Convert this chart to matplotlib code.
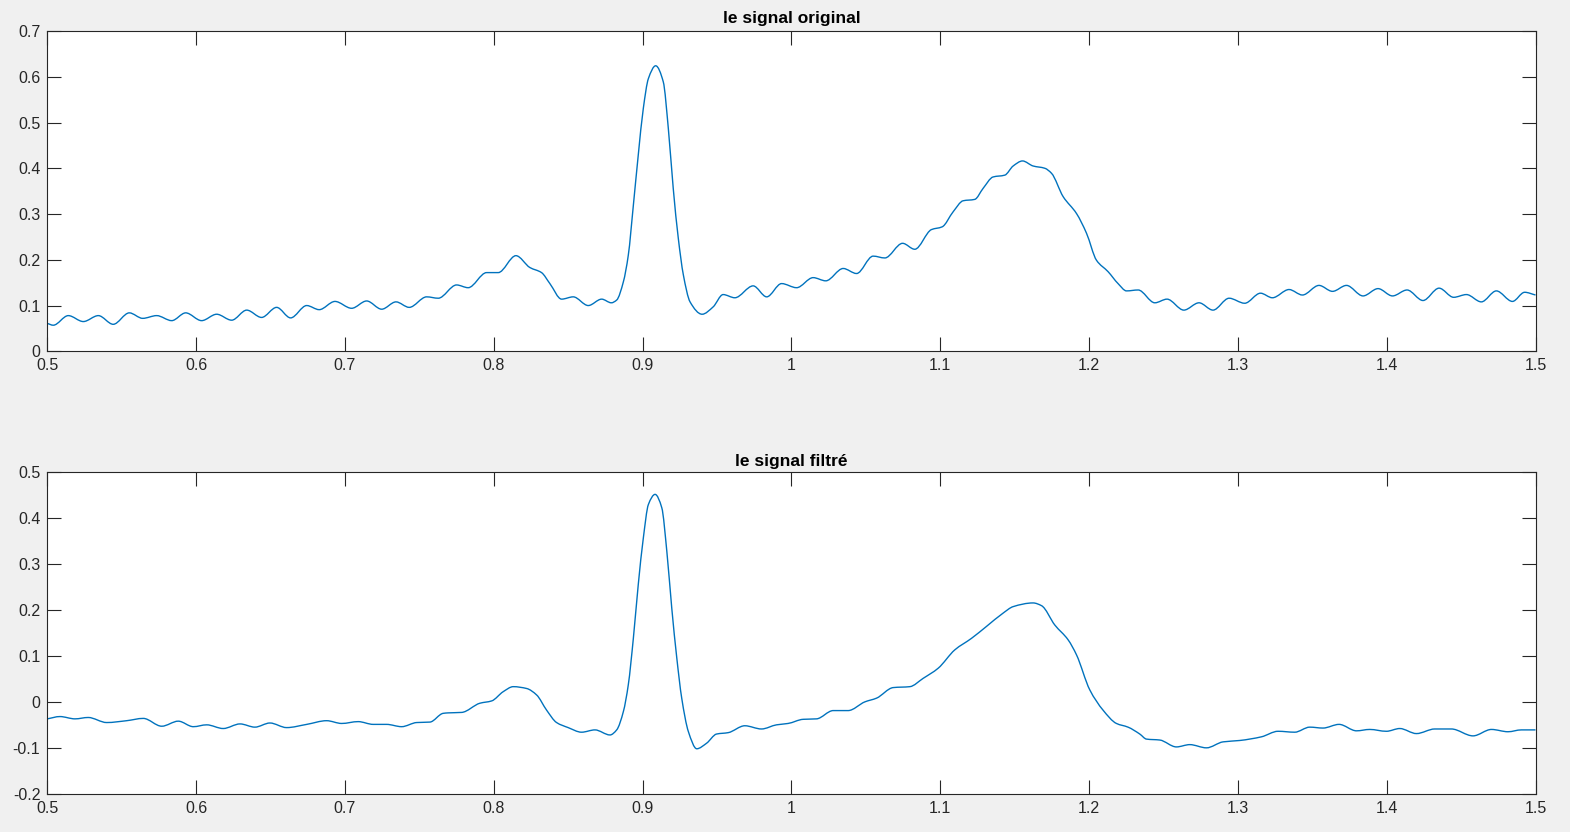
import matplotlib
matplotlib.use("Agg")
import matplotlib.pyplot as plt
from matplotlib.path import Path
from matplotlib.patches import PathPatch
import numpy as np

# ---- data ----
t_orig = [0.5000, 0.5040, 0.5141, 0.5242, 0.5343, 0.5443, 0.5551, 0.5641, 0.5735, 0.5836,
          0.5930, 0.6037, 0.6138, 0.6239, 0.6340, 0.6440, 0.6541, 0.6635, 0.6743, 0.6827,
          0.6933, 0.7045, 0.7146, 0.7247, 0.7343, 0.7432, 0.7549, 0.7627, 0.7750, 0.7828,
          0.7952, 0.8030, 0.8149, 0.8243, 0.8321, 0.8377, 0.8456, 0.8534, 0.8635, 0.8725,
          0.8790, 0.8826, 0.8871, 0.8904, 0.8938, 0.8971, 0.9005, 0.9039, 0.9088, 0.9139,
          0.9173, 0.9206, 0.9240, 0.9274, 0.9319, 0.9400, 0.9474, 0.9541, 0.9620, 0.9743,
          0.9834, 0.9934, 1.0035, 1.0146,
          1.0231, 1.0348, 1.0438, 1.0549, 1.0628, 1.0747, 1.0829, 1.0941, 1.1013, 1.1087,
          1.1154, 1.1232, 1.1288, 1.1355, 1.1434, 1.1490, 1.1553, 1.1624, 1.1703, 1.1748,
          1.1826, 1.1916, 1.1983, 1.2050, 1.2128, 1.2195, 1.2252, 1.2330, 1.2442, 1.2524,
          1.2637, 1.2739, 1.2833, 1.2941, 1.3046, 1.3152, 1.3232, 1.3344, 1.3434, 1.3545,
          1.3636, 1.3730, 1.3841, 1.3942, 1.4039, 1.4137, 1.4244, 1.4352, 1.4450, 1.4536,
          1.4636, 1.4737, 1.4845, 1.4927, 1.5000]
y_orig = [0.061, 0.057, 0.078, 0.065, 0.078, 0.059, 0.084, 0.072, 0.078, 0.067,
          0.084, 0.067, 0.081, 0.068, 0.090, 0.074, 0.096, 0.073, 0.100, 0.091,
          0.109, 0.094, 0.110, 0.092, 0.108, 0.096, 0.119, 0.116, 0.145, 0.139,
          0.172, 0.172, 0.209, 0.183, 0.172, 0.148, 0.114, 0.119, 0.100, 0.114,
          0.106, 0.112, 0.152, 0.210, 0.319, 0.429, 0.531, 0.596, 0.624, 0.589,
          0.487, 0.356, 0.247, 0.167, 0.108, 0.081, 0.097, 0.124, 0.117, 0.143,
          0.119, 0.148, 0.139, 0.161,
          0.154, 0.181, 0.170, 0.208, 0.204, 0.236, 0.223, 0.266, 0.272, 0.305,
          0.329, 0.332, 0.356, 0.381, 0.385, 0.405, 0.416, 0.405, 0.400, 0.389,
          0.338, 0.301, 0.258, 0.199, 0.174, 0.148, 0.132, 0.134, 0.106, 0.114,
          0.090, 0.106, 0.090, 0.116, 0.105, 0.127, 0.117, 0.135, 0.123, 0.144,
          0.131, 0.144, 0.121, 0.137, 0.121, 0.134, 0.111, 0.138, 0.118, 0.124,
          0.108, 0.132, 0.109, 0.129, 0.123]

t_filt = [0.5000, 0.5085, 0.5186, 0.5275, 0.5399, 0.5533, 0.5645, 0.5769, 0.5880, 0.5981,
          0.6071, 0.6182, 0.6295, 0.6395, 0.6496, 0.6608, 0.6743, 0.6877, 0.6978, 0.7089,
          0.7190, 0.7280, 0.7381, 0.7482, 0.7571, 0.7660, 0.7694, 0.7784, 0.7907, 0.7986,
          0.8063, 0.8131, 0.8221, 0.8288, 0.8355, 0.8422, 0.8500, 0.8590, 0.8680, 0.8781,
          0.8826, 0.8871, 0.8904, 0.8938, 0.8971, 0.9005, 0.9039, 0.9084, 0.9129, 0.9163,
          0.9196, 0.9230, 0.9263, 0.9308, 0.9364, 0.9430, 0.9497, 0.9575, 0.9687, 0.9799,
          0.9900, 0.9978, 1.0079,
          1.0169, 1.0281, 1.0381, 1.0494, 1.0572, 1.0684, 1.0796, 1.0885, 1.0986, 1.1098,
          1.1210, 1.1311, 1.1423, 1.1490, 1.1624, 1.1681, 1.1770, 1.1859, 1.1916, 1.2005,
          1.2094, 1.2184, 1.2262, 1.2341, 1.2386, 1.2475, 1.2587, 1.2677, 1.2789, 1.2901,
          1.3013, 1.3159, 1.3270, 1.3382, 1.3483, 1.3572, 1.3680, 1.3797, 1.3886, 1.3998,
          1.4088, 1.4200, 1.4323, 1.4435, 1.4580, 1.4704, 1.4815, 1.4905, 1.5000]
y_filt = [-0.036, -0.031, -0.036, -0.033, -0.044, -0.040, -0.035, -0.052, -0.041, -0.053,
          -0.049, -0.057, -0.047, -0.054, -0.045, -0.055, -0.048, -0.040, -0.046, -0.042,
          -0.048, -0.048, -0.053, -0.044, -0.043, -0.024, -0.023, -0.022, -0.002, 0.003,
          0.023, 0.034, 0.030, 0.016, -0.017, -0.044, -0.055, -0.065, -0.060, -0.071,
          -0.060, -0.020, 0.038, 0.139, 0.256, 0.357, 0.430, 0.452, 0.423, 0.328,
          0.205, 0.096, 0.009, -0.064, -0.101, -0.089, -0.069, -0.066, -0.051, -0.058,
          -0.049, -0.046, -0.037,
          -0.036, -0.018, -0.018, 0.001, 0.009, 0.032, 0.034, 0.052, 0.074, 0.114,
          0.139, 0.165, 0.194, 0.208, 0.216, 0.210, 0.168, 0.136, 0.103, 0.027,
          -0.017, -0.046, -0.054, -0.069, -0.080, -0.082, -0.097, -0.092, -0.099, -0.086,
          -0.083, -0.075, -0.063, -0.065, -0.054, -0.056, -0.048, -0.062, -0.059, -0.063,
          -0.057, -0.068, -0.058, -0.058, -0.073, -0.059, -0.064, -0.060, -0.060]

x_ticks = [0.5, 0.6, 0.7, 0.8, 0.9, 1.0, 1.1, 1.2, 1.3, 1.4, 1.5]
x_ticklabels = ["0.5", "0.6", "0.7", "0.8", "0.9", "1", "1.1", "1.2", "1.3", "1.4", "1.5"]
y_ticks_top = [0, 0.1, 0.2, 0.3, 0.4, 0.5, 0.6, 0.7]
y_ticklabels_top = ["0", "0.1", "0.2", "0.3", "0.4", "0.5", "0.6", "0.7"]
y_ticks_bot = [-0.2, -0.1, 0, 0.1, 0.2, 0.3, 0.4, 0.5]
y_ticklabels_bot = ["-0.2", "-0.1", "0", "0.1", "0.2", "0.3", "0.4", "0.5"]
titles = ["le signal original", "le signal filtré"]

# ---- figure ----
plt.rcParams['font.family'] = ['Liberation Sans', 'DejaVu Sans']
W, H = 1570, 832
fig = plt.figure(figsize=(W / 100, H / 100), dpi=100, facecolor='#f0f0f0')

line_color = '#0072BD'
axis_color = '#262626'


def smooth_path(t, y):
    """Bezier path through the read points (shape-preserving tangents)."""
    x = np.asarray(t, float)
    v = np.asarray(y, float)
    h = np.diff(x)
    d = np.diff(v) / h
    n = len(x)
    m = np.zeros(n)
    for i in range(1, n - 1):
        if d[i - 1] * d[i] > 0:
            w1 = 2 * h[i] + h[i - 1]
            w2 = h[i] + 2 * h[i - 1]
            m[i] = (w1 + w2) / (w1 / d[i - 1] + w2 / d[i])
    m[0] = d[0]
    m[-1] = d[-1]
    verts = [(x[0], v[0])]
    codes = [Path.MOVETO]
    for i in range(n - 1):
        verts += [(x[i] + h[i] / 3, v[i] + m[i] * h[i] / 3),
                  (x[i + 1] - h[i] / 3, v[i + 1] - m[i + 1] * h[i] / 3),
                  (x[i + 1], v[i + 1])]
        codes += [Path.CURVE4] * 3
    return Path(verts, codes)


def make_axes(rect, t, y, yticks, yticklabels, ylim, title, tpad):
    ax = fig.add_axes(rect)
    ax.set_facecolor('white')
    ax.add_patch(PathPatch(smooth_path(t, y), facecolor='none',
                           edgecolor=line_color, lw=1.0, joinstyle='round'))
    ax.set_xlim(0.5, 1.5)
    ax.set_ylim(*ylim)
    ax.set_xticks(x_ticks)
    ax.set_xticklabels(x_ticklabels)
    ax.set_yticks(yticks)
    ax.set_yticklabels(yticklabels)
    ax.tick_params(direction='in', length=10, width=0.8, colors=axis_color,
                   labelsize=11.5, top=True, right=True, pad=5)
    for s in ax.spines.values():
        s.set_color(axis_color)
        s.set_linewidth(0.8)
    ax.set_title(title, fontsize=12.5, fontweight='bold', color='black', pad=tpad)
    return ax


ax1 = make_axes([47.3 / W, 1 - 351.3 / H, 1488.2 / W, 320.3 / H],
                t_orig, y_orig, y_ticks_top, y_ticklabels_top, (0, 0.7), titles[0], 6)
ax2 = make_axes([47.3 / W, 1 - 794.3 / H, 1488.2 / W, 322.0 / H],
                t_filt, y_filt, y_ticks_bot, y_ticklabels_bot, (-0.2, 0.5), titles[1], 4.5)

fig.savefig('out.png', dpi=100, facecolor=fig.get_facecolor())
